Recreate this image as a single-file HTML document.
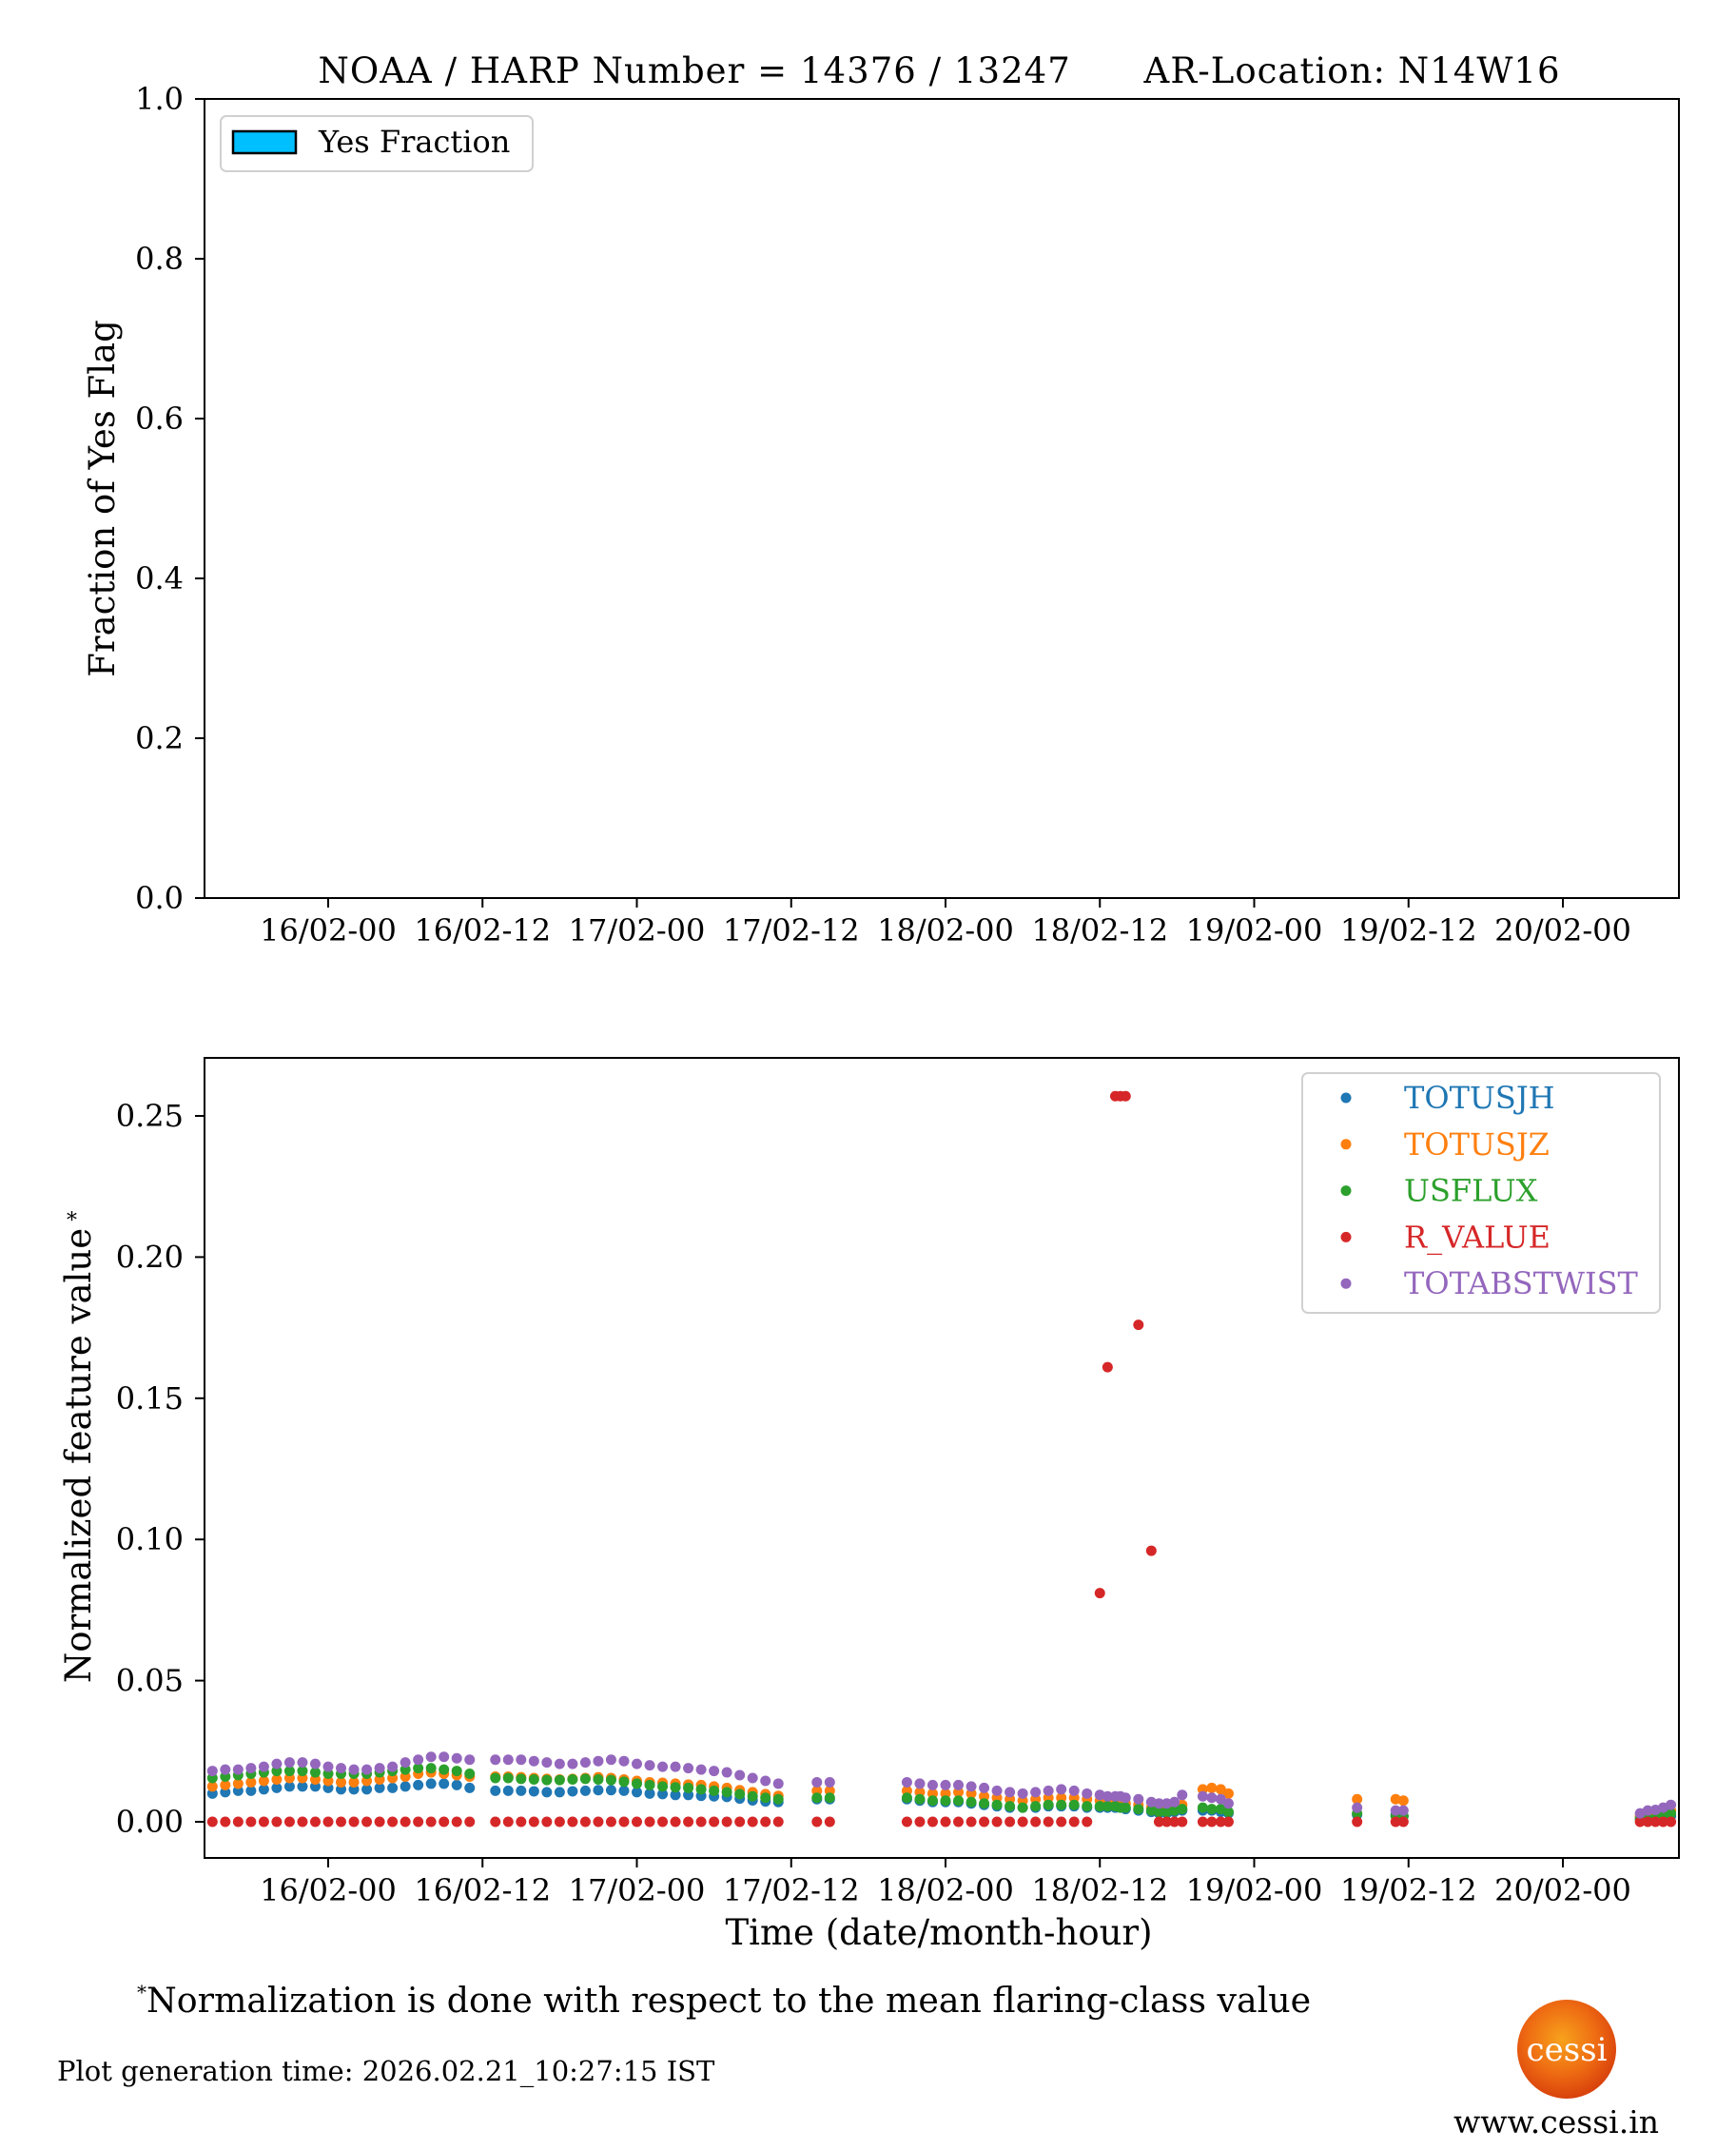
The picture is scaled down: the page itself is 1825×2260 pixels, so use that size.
<!DOCTYPE html>
<html><head><meta charset="utf-8"><style>
html,body{margin:0;padding:0;background:#fff}
svg{display:block;font-family:"DejaVu Serif","Liberation Serif",serif}
</style></head><body>
<svg id="fig" width="1825" height="2260" viewBox="0 0 1825 2260" xmlns="http://www.w3.org/2000/svg">
<defs>
<radialGradient id="sun" cx="45%" cy="40%" r="60%">
<stop offset="0" stop-color="#f7a21c"/><stop offset="0.6" stop-color="#ee6a12"/><stop offset="1" stop-color="#d8420c"/>
</radialGradient>
</defs>
<text x="987" y="87" font-size="37" text-anchor="middle" xml:space="preserve" textLength="1305">NOAA / HARP Number = 14376 / 13247      AR-Location: N14W16</text>

<g id="topPanel"></g>
<g id="botPanel"></g>

<text x="144" y="2115" font-size="36.3"><tspan font-size="20" dy="-14">*</tspan><tspan dy="14">Normalization is done with respect to the mean flaring-class value</tspan></text>
<text x="60" y="2187" font-size="29">Plot generation time: 2026.02.21_10:27:15 IST</text>
<g>
<circle cx="1647" cy="2154" r="52" fill="url(#sun)"/>
<text x="1647" y="2166" font-size="34" fill="#fff" text-anchor="middle">cessi</text>
</g>
<text x="1636" y="2242" font-size="33" text-anchor="middle">www.cessi.in</text>
</svg>
<script>
// ---- data ----
const xTickLabels = ["16/02-00","16/02-12","17/02-00","17/02-12","18/02-00","18/02-12","19/02-00","19/02-12","20/02-00"];
const xTickHours = [0,12,24,36,48,60,72,84,96];
const topYTicks = [0.0,0.2,0.4,0.6,0.8,1.0];
const botYTicks = [0.00,0.05,0.10,0.15,0.20,0.25];
const seriesNames = ["TOTUSJH","TOTUSJZ","USFLUX","R_VALUE","TOTABSTWIST"];
// observation times (hours since 16/02-00)
const times = [-9,-8,-7,-6,-5,-4,-3,-2,-1,0,1,2,3,4,5,6,7,8,9,10,11,
 13,14,15,16,17,18,19,20,21,22,23,24,25,26,27,28,29,30,31,32,33,34,35,
 38,39,
 45,46,47,48,49,50,51,52,53,54,55,56,57,58,59,60,60.6,61.2,61.6,62,63,64,64.6,65.2,65.8,66.4,
 68,68.7,69.4,70,
 80,
 83,83.6,
 102,102.6,103.2,103.8,104.4];
const totusjh = [.010,.0105,.011,.011,.0115,.012,.0125,.0125,.0125,.012,.0115,.0115,.0115,.012,.012,.0125,.013,.0135,.0135,.013,.012,
 .011,.011,.011,.0108,.0105,.0105,.0108,.011,.0112,.0112,.011,.0105,.010,.0098,.0095,.0095,.0092,.009,.0088,.0082,.0076,.0072,.007,
 .008,.008,
 .008,.0075,.007,.007,.007,.0065,.006,.0055,.005,.005,.005,.0055,.0055,.0055,.005,.005,.005,.005,.005,.0045,.004,.0035,.003,.003,.0035,.004,
 .004,.004,.0035,.003,
 .0025,
 .0025,.002,
 .001,.001,.0012,.0015,.002];
const totusjz = [.0125,.013,.0135,.014,.0145,.015,.0155,.0155,.015,.0145,.014,.014,.0145,.015,.0155,.016,.017,.0175,.017,.0165,.016,
 .016,.016,.0158,.0155,.0152,.015,.0152,.0155,.0158,.0155,.015,.0145,.014,.0138,.0135,.0132,.013,.0125,.012,.0112,.0105,.0098,.0092,
 .011,.011,
 .011,.0105,.010,.010,.0105,.010,.009,.0085,.008,.0075,.008,.0085,.0085,.0085,.008,.0075,.0075,.007,.007,.0065,.006,.005,.0045,.0045,.005,.006,
 .0115,.012,.0115,.010,
 .008,
 .008,.0075,
 .002,.002,.0022,.003,.004];
const usflux = [.0155,.016,.0165,.017,.0175,.018,.018,.018,.0175,.017,.017,.017,.017,.0175,.018,.0185,.019,.019,.0185,.018,.017,
 .0155,.0155,.0152,.015,.0148,.0148,.015,.0152,.015,.0148,.0142,.0135,.013,.0125,.0122,.012,.0115,.011,.0105,.0098,.009,.0085,.008,
 .0085,.0085,
 .0085,.008,.0075,.0075,.0075,.007,.0065,.006,.0055,.005,.0055,.006,.006,.006,.0055,.0055,.0055,.0055,.005,.005,.0045,.004,.0035,.0035,.004,.0045,
 .005,.0045,.0045,.0035,
 .003,
 .002,.002,
 .001,.001,.0012,.002,.003];
const rvalue = [0,0,0,0,0,0,0,0,0,0,0,0,0,0,0,0,0,0,0,0,0,
 0,0,0,0,0,0,0,0,0,0,0,0,0,0,0,0,0,0,0,0,0,0,0,
 0,0,
 0,0,0,0,0,0,0,0,0,0,0,0,0,0,0,.081,.161,.257,.257,.257,.176,.096,0,0,0,0,
 0,0,0,0,
 0,
 0,0,
 0,0,0,0,0];
const totabstwist = [.018,.0185,.0185,.019,.0195,.0205,.021,.021,.0205,.0195,.019,.0185,.0185,.019,.0195,.021,.022,.023,.023,.0225,.022,
 .022,.022,.022,.0215,.021,.0205,.0205,.021,.0215,.022,.0215,.0205,.020,.0195,.0195,.019,.0185,.018,.0175,.0165,.0155,.0145,.0135,
 .014,.014,
 .014,.0135,.013,.013,.013,.0125,.012,.011,.0105,.010,.0105,.011,.0115,.011,.010,.0095,.009,.009,.009,.0085,.008,.007,.0065,.0065,.007,.0095,
 .009,.0085,.008,.0065,
 .005,
 .004,.004,
 .003,.004,.0042,.005,.006];
const seriesValues = [totusjh,totusjz,usflux,rvalue,totabstwist];

// ---- layout ----
const NS="http://www.w3.org/2000/svg";
const L=215,R=1765;
const xOf=h=>345+h*(1298/96);
const topT=104,topB=944;
const yTop=v=>topB-v*(topB-topT);
const botT=1112,botB=1953;
const yBot=v=>1915-v*(742/0.25);
const colors=["#1f77b4","#ff7f0e","#2ca02c","#d62728","#9467bd"];
function mk(tag,attrs,parent,txt){const e=document.createElementNS(NS,tag);for(const k in attrs)e.setAttribute(k,attrs[k]);if(txt!==undefined)e.textContent=txt;parent.appendChild(e);return e;}

function axes(g,T,B,yf,yt,dec,label,labelX,labelY,pref){
  const fr=mk('rect',{x:L,y:T,width:R-L,height:B-T,fill:'none',stroke:'#000','stroke-width':2},g);
  
  
  xTickHours.forEach((h,i)=>{
    const x=xOf(h);
    const t=mk('line',{x1:x,x2:x,y1:B,y2:B+10,stroke:'#000','stroke-width':2},g);
    
    
    const tl=mk('text',{x:x,y:B+45,'font-size':32,'text-anchor':'middle'},g,xTickLabels[i]);
    
    
  });
  yt.forEach(v=>{
    const y=yf(v);
    const t=mk('line',{x1:L-10,x2:L,y1:y,y2:y,stroke:'#000','stroke-width':2},g);
    
    
    const tl=mk('text',{x:L-22,y:y+11,'font-size':32,'text-anchor':'end'},g,v.toFixed(dec));
    
    
  });
  const yl=mk('text',{x:labelX,y:labelY,'font-size':37,'text-anchor':'middle',transform:`rotate(-90 ${labelX} ${labelY})`},g,label);
  
  
  return yl;
}
const topG=document.getElementById('topPanel');
axes(topG,topT,topB,yTop,topYTicks,1,'Fraction of Yes Flag',120,524,'top');
const lg=mk('g',{},topG);


mk('rect',{x:232,y:122,width:328,height:58,rx:6,fill:'#fff',stroke:'#d0d0d0','stroke-width':2},lg);
mk('rect',{x:245,y:138,width:66,height:23,fill:'#00bfff',stroke:'#000','stroke-width':2.5},lg);
mk('text',{x:335,y:160,'font-size':32},lg,'Yes Fraction');

const botG=document.getElementById('botPanel');
axes(botG,botT,botB,yBot,botYTicks,2,'Normalized feature value',95,1530,'bottom');
const star=mk('text',{x:70,y:1290,'font-size':22},botG,'*');


const xl=mk('text',{x:987,y:2044,'font-size':37,'text-anchor':'middle'},botG,'Time (date/month-hour)');



seriesValues.forEach((vals,si)=>{
  const sg=mk('g',{fill:colors[si]},botG);
  
  
  vals.forEach((v,i)=>{
    const c=mk('circle',{cx:xOf(times[i]),cy:yBot(v),r:5.5},sg);
    
    
  });
});
const bl=mk('g',{},botG);


mk('rect',{x:1369,y:1128,width:376,height:252,rx:6,fill:'#fff','fill-opacity':0.85,stroke:'#d0d0d0','stroke-width':2},bl);
seriesNames.forEach((n,i)=>{
  const y=1154+i*48.8;
  const e=mk('g',{},bl);
  
  
  mk('circle',{cx:1415,cy:y,r:5.5,fill:colors[i]},e);
  mk('text',{x:1476,y:y+11,'font-size':32,fill:colors[i]},e,n);
});
</script>
</body></html>
